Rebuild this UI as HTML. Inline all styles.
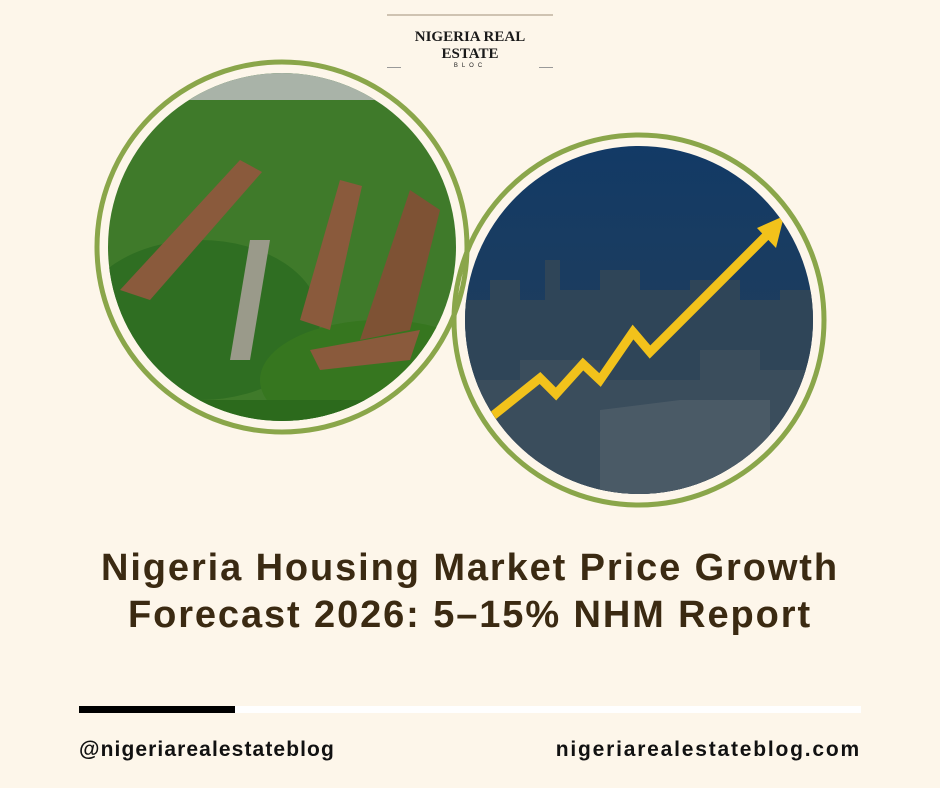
<!DOCTYPE html>
<html><head><meta charset="utf-8"><style>
body{margin:0;width:940px;height:788px;background:#fdf6ea;position:relative;overflow:hidden;font-family:"Liberation Sans",sans-serif}
.t{position:absolute;left:0;width:940px;text-align:center;color:#3b2a12;font-weight:bold;font-size:38px;letter-spacing:1.9px;white-space:nowrap}
.f{position:absolute;top:738px;font-size:21px;font-weight:bold;color:#111;letter-spacing:1.1px}
</style></head><body>
<div style="position:absolute;left:387px;top:14px;width:166px;height:2px;background:#cfc3b2"></div>
<div style="position:absolute;left:387px;top:67px;width:14px;height:1px;background:#999"></div>
<div style="position:absolute;left:539px;top:67px;width:14px;height:1px;background:#999"></div>
<div style="position:absolute;left:0;width:940px;top:29px;text-align:center;font-family:'Liberation Serif',serif;font-weight:bold;font-size:15px;line-height:17px;color:#1a1a1a">NIGERIA REAL<br>ESTATE</div>
<div style="position:absolute;left:0;width:940px;top:63px;text-align:center;font-size:6px;letter-spacing:4px;color:#222">BLOC</div>
<svg width="940" height="788" style="position:absolute;left:0;top:0">
<defs>
<clipPath id="c1"><circle cx="282" cy="247" r="174"/></clipPath>
<clipPath id="c2"><circle cx="639" cy="320" r="174"/></clipPath>
<linearGradient id="sky" x1="0" y1="0" x2="0" y2="1"><stop offset="0" stop-color="#123a66"/><stop offset="0.5" stop-color="#1d3d5e"/><stop offset="1" stop-color="#2a3f52"/></linearGradient>
</defs>
<circle cx="282" cy="247" r="185" fill="none" stroke="#8aa64a" stroke-width="5"/>
<g clip-path="url(#c1)">
<rect x="100" y="70" width="370" height="360" fill="#3f7a2a"/>
<rect x="100" y="70" width="370" height="30" fill="#a9b3a8"/>
<ellipse cx="200" cy="320" rx="120" ry="80" fill="#2f6e22"/>
<ellipse cx="380" cy="380" rx="120" ry="60" fill="#36761f"/>
<path d="M120 290 L240 160 L262 172 L150 300Z" fill="#8a5a3c"/>
<path d="M300 320 L340 180 L362 186 L330 330Z" fill="#8a5a3c"/>
<path d="M360 340 L410 190 L440 210 L410 330Z" fill="#7e5234"/>
<path d="M230 360 L250 240 L270 240 L250 360Z" fill="#9a9a8a"/>
<path d="M310 350 L420 330 L410 360 L320 370Z" fill="#8a5a3c"/>
<rect x="100" y="400" width="370" height="30" fill="#2c6a1c"/>
</g>
<circle cx="639" cy="320" r="185" fill="none" stroke="#8aa64a" stroke-width="5"/>
<g clip-path="url(#c2)">
<rect x="460" y="140" width="360" height="360" fill="url(#sky)"/>
<path d="M460 500 L460 300 L490 300 L490 280 L520 280 L520 300 L545 300 L545 260 L560 260 L560 290 L600 290 L600 270 L640 270 L640 290 L690 290 L690 280 L740 280 L740 300 L780 300 L780 290 L820 290 L820 500Z" fill="#2f4558"/>
<path d="M460 500 L460 380 L520 380 L520 360 L600 360 L600 380 L700 380 L700 350 L760 350 L760 370 L820 370 L820 500Z" fill="#3a4d5c"/>
<path d="M600 500 L600 410 L680 400 L770 400 L770 500Z" fill="#4a5a66"/>
<polyline points="490,418 540,378 556,394 583,364 600,380 633,332 650,352 770,232" fill="none" stroke="#f2c21b" stroke-width="9" stroke-linejoin="miter"/>
<polygon points="784,216 757,228 776,248" fill="#f2c21b"/>
</g>
</svg>
<div class="t" style="top:547px">Nigeria Housing Market Price Growth</div>
<div class="t" style="top:594px">Forecast 2026: 5–15% NHM Report</div>
<div style="position:absolute;left:79px;top:706px;width:782px;height:7px;background:#fff"></div>
<div style="position:absolute;left:79px;top:706px;width:156px;height:7px;background:#000"></div>
<div class="f" style="left:79px">@nigeriarealestateblog</div>
<div class="f" style="right:79px;letter-spacing:1.8px">nigeriarealestateblog.com</div>
</body></html>
